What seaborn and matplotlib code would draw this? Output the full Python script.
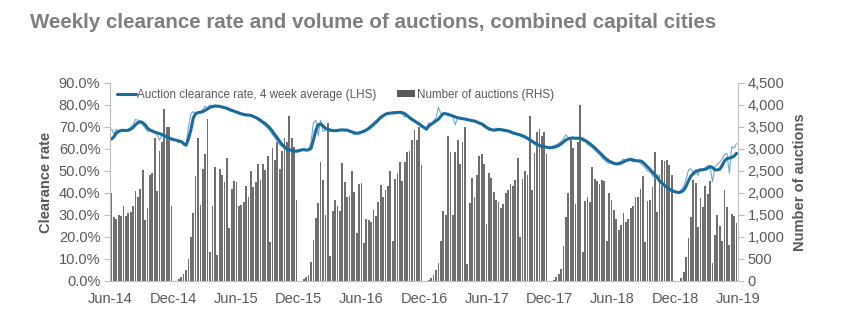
import numpy as np
import pandas as pd
import matplotlib
matplotlib.use("Agg")
import matplotlib.pyplot as plt
import seaborn as sns
from matplotlib.patches import Patch
from matplotlib.lines import Line2D

sns.set_theme(style="white")
plt.rcParams["font.family"] = ["Liberation Sans", "DejaVu Sans"]

# ---------------- data (weekly, Jun-14 .. Jun-19) ----------------
tick_labels = ["Jun-14", "Dec-14", "Jun-15", "Dec-15", "Jun-16", "Dec-16",
               "Jun-17", "Dec-17", "Jun-18", "Dec-18", "Jun-19"]

auctions_2014 = [2000, 1450, 1420, 1500, 1480, 1700, 1480, 1550, 1560, 1700,
                 2050, 1900, 2080, 2520, 1380, 1650, 2400, 2450, 3250, 2050,
                 2950, 3150, 3900, 3500, 3500, 1700, 0, 0]
auctions_2015 = [40, 100, 160, 250, 500, 1000, 1550, 2380, 3250, 1720,
                 2550, 2880, 3680, 650, 1700, 2600, 600, 2550, 2400, 2250,
                 2800, 1200, 2080, 2280, 2250, 1700, 1730, 1800, 2150, 1900,
                 2500, 2130, 2250, 2650, 2300, 2650, 2530, 2830, 880, 3030,
                 2750, 3150, 2550, 2950, 3250, 3150, 3750, 3250, 3050, 1830, 0, 0]
auctions_2016 = [40, 80, 140, 440, 930, 1425, 1765, 2715, 2300, 1500,
                 3580, 570, 1600, 1840, 1700, 1580, 2680, 2260, 1920, 1940,
                 2490, 2020, 1100, 2200, 2220, 860, 1410, 1390, 1340, 1610,
                 1470, 1790, 2180, 1920, 2070, 2170, 2490, 900, 2320, 2450,
                 2700, 2280, 2700, 2940, 2960, 3200, 3440, 3200, 3490, 2640, 0, 0]
auctions_2017 = [25, 60, 135, 250, 400, 900, 1590, 1490, 3300, 2930,
                 1500, 2930, 3200, 2650, 3170, 3510, 380, 1770, 2350, 1920,
                 2410, 2830, 2880, 2650, 1290, 2450, 2340, 2020, 1840, 1790,
                 1650, 1750, 2000, 2070, 2200, 2150, 2300, 2790, 1000, 2320,
                 2490, 2410, 3740, 2060, 2920, 3395, 3450, 3300, 3395, 2895, 0, 0]
auctions_2018 = [30, 80, 160, 265, 800, 1460, 2000, 3200, 3030, 1760,
                 3150, 3990, 670, 1820, 1910, 1800, 2580, 2310, 2280, 2200,
                 2300, 2280, 915, 2000, 1840, 1610, 1420, 1160, 1270, 1550,
                 1350, 1400, 1660, 1700, 1910, 1910, 2090, 2380, 890, 1820,
                 1840, 2140, 2930, 1560, 2410, 2750, 2730, 2750, 2640, 2420, 0, 0, 0]
auctions_2019 = [60, 200, 550, 970, 1460, 2300, 2220, 1220, 1890, 1680,
                 2170, 1980, 2270, 410, 1040, 1500, 1240, 920, 2060, 1680,
                 810, 1520, 1480, 1310]

clearance_4wk = [
    64.5, 65.5, 67.2, 68, 68.4, 68.5, 68.4, 68.5, 69, 69.8,
    71, 72, 72.4, 72, 71, 69.5, 68.6, 68.2, 67.7, 67.3,
    67, 66.6, 66, 65.4, 65, 64.6, 64.2, 64, 63.6, 63.4,
    62.5, 61.7, 64.5, 68.5, 74, 76, 76.5, 76.7, 77, 77.6,
    78.3, 79, 79.3, 79.5, 79.5, 79.4, 79.1, 78.8, 78.5, 78,
    77.6, 77.2, 76.8, 76.4, 76, 75.7, 75.5, 75.4, 75.3, 74.8,
    74.3, 73.8, 73, 72.2, 71.5, 70.5, 69.4, 68, 66.4, 65,
    63.4, 62, 61, 60, 59.6, 59.4, 59, 59, 59.2, 59.6,
    59.7, 59.5, 59.6, 60.3, 64, 68.5, 71, 71.4, 70.5, 69.4,
    69, 68.6, 68.4, 68.3, 68.4, 68.6, 68.7, 68.6, 68.6, 68.2,
    67.8, 67.4, 67.1, 67.3, 67.7, 68, 68.6, 69.3, 70.2, 71.1,
    72.1, 73.2, 74.3, 75.1, 75.8, 76.2, 76.3, 76.4, 76.5, 76.6,
    76.7, 76.5, 76, 75.2, 74.3, 73.5, 72.8, 72.1, 71.4, 70.5,
    69.8, 69, 70.5, 71.3, 72, 72.8, 73.5, 74.9, 76.1, 76,
    75.8, 75.4, 75, 74.6, 74.2, 74, 73.8, 73.6, 73.4, 73.1,
    72.9, 72.7, 72.3, 71.8, 71.4, 70.7, 69.8, 69.2, 68.8, 68.6,
    68.7, 68.9, 68.8, 68.6, 68.4, 68.2, 67.8, 67.3, 67, 66.7,
    66.4, 66, 65.5, 64.9, 64.2, 63.5, 62.8, 62.2, 61.6, 61.2,
    61, 60.8, 60.6, 60.6, 60.8, 61.1, 61.6, 62.3, 63.2, 64.1,
    64.6, 64.9, 65, 64.9, 64.9, 64.9, 64.5, 63.9, 63.2, 62.4,
    61.5, 60.6, 59.5, 58.4, 57.4, 56.2, 55.3, 54.5, 54, 53.5,
    53.2, 53.3, 53.6, 54.2, 54.7, 55.1, 55.3, 55, 54.7, 54.6,
    54.6, 54, 53, 51.8, 50.7, 49.5, 48.2, 47, 45.5, 44.5,
    43.5, 42.6, 41.8, 41.2, 40.7, 40.4, 40.2, 40.5, 41.3, 43,
    45.5, 47.7, 48.8, 49.7, 50.2, 50.5, 50.6, 50.8, 51.3, 52,
    51.6, 50.5, 50.5, 50.8, 52.5, 54.6, 55.6, 55.9, 56.2, 56.8,
    58]

clearance_weekly = [
    69, 67, 69, 68, 68.5, 68, 68.5, 69, 70, 71,
    73.5, 73, 72, 71, 69.5, 68, 68.5, 67.5, 67.5, 66.5,
    64, 66.5, 65, 65.5, 64.5, 64, 64, 63.8, 63, 63,
    61.8, 61.5, 70, 76, 77, 76, 77, 76.5, 78, 79.5,
    78.5, 80, 79, 80, 79, 79.5, 78.5, 79, 78, 77.5,
    77, 77.5, 76.5, 76, 75.5, 76, 75, 75.5, 75, 74.5,
    74, 73, 72.5, 71.5, 70.5, 69.5, 68, 66.5, 65, 63.5,
    62, 61, 60, 59.5, 59.5, 59, 59, 59.5, 59.5, 59.8,
    59.5, 59.5, 60, 63, 72, 73, 66, 73, 68, 68.5,
    69.5, 68, 68.5, 68, 69, 68.5, 69, 68, 68.5, 67.5,
    67.5, 66.5, 67.5, 67, 68, 68.5, 69, 70, 71, 72,
    73, 74, 75, 75.5, 76, 76.5, 76, 77, 76.5, 77,
    76.5, 76, 74.5, 75, 73.5, 73, 72.5, 71.5, 71, 70,
    69.5, 69, 72, 70.5, 73, 74, 79, 76, 75.5, 76.5,
    75, 75.5, 74.5, 71, 74.5, 74, 73.5, 73.5, 73, 73,
    72.5, 72.5, 72, 71.5, 71, 70, 69.5, 68.5, 69, 68,
    69.5, 69, 68.5, 69, 68, 68, 67.5, 67, 66.5, 67,
    66, 65.5, 65, 64.5, 63.5, 63, 62, 61.5, 61, 61,
    61, 60.5, 60.5, 61, 61.5, 62, 62.5, 63.5, 64.5, 66.5,
    65, 64.5, 65.5, 64.5, 65, 64.5, 63.5, 63.5, 62, 61.5,
    60.5, 59.5, 58.5, 57.5, 56, 55, 54, 53.5, 53.5, 53,
    53.5, 54, 54.5, 55.5, 54.5, 55.5, 55, 54, 55, 54.5,
    53.5, 52.5, 51.5, 50, 49.5, 48, 46.5, 48.5, 45, 43.5,
    43, 42, 41.5, 41, 40.5, 40.5, 40.5, 41.5, 43, 46,
    50.5, 51, 49.5, 50.5, 48, 51, 50.5, 51.5, 52.5, 52,
    45, 52, 53, 54, 55.5, 57.5, 58, 49, 61, 60.5,
    62.5]

auctions = (auctions_2014 + auctions_2015 + auctions_2016 +
            auctions_2017 + auctions_2018 + auctions_2019)
n = len(auctions)
df = pd.DataFrame({"week": np.arange(n), "auctions": auctions,
                   "avg": clearance_4wk[:n], "weekly": clearance_weekly[:n]})

# ---------------- figure ----------------
GREY_TXT = "#595959"
SPINE = "#bfbfbf"
BAR = "#6f6f6f"
DARK = "#1a6b9a"
LIGHT = "#6fa8dc"

fig = plt.figure(figsize=(8.41, 3.25), dpi=100)
ax = fig.add_axes([110 / 841, 1 - 281 / 325, 628 / 841, 198 / 325])
ax2 = ax.twinx()

sns.barplot(data=df, x="week", y="auctions", ax=ax2, native_scale=True,
            color=BAR, saturation=1, width=0.72, errorbar=None, linewidth=0)
sns.lineplot(data=df, x="week", y="weekly", ax=ax, color=LIGHT, lw=0.8)
sns.lineplot(data=df, x="week", y="avg", ax=ax, color=DARK, lw=2.2)

ax.set_zorder(ax2.get_zorder() + 1)
ax.patch.set_visible(False)

ax.set_xlim(-0.6, n - 0.4)
ax2.set_xlim(-0.6, n - 0.4)
ax.set_ylim(0, 90)
ax2.set_ylim(0, 4500)

ticks_pos = [-0.5 + k * 26.1 for k in range(len(tick_labels))]
ax.set_xticks(ticks_pos)
ax.set_xticklabels(tick_labels)
ax.set_yticks(np.arange(0, 91, 10))
ax.set_yticklabels([f"{v:.1f}%" for v in np.arange(0, 91, 10)])
ax2.set_yticks(np.arange(0, 4501, 500))
ax2.set_yticklabels([f"{v:,}" for v in range(0, 4501, 500)])

for a in (ax, ax2):
    a.set_xlabel("")
    a.spines["top"].set_visible(False)
    for s in ("left", "right", "bottom"):
        a.spines[s].set_color(SPINE)
        a.spines[s].set_linewidth(0.8)
    a.grid(False)
ax.spines["right"].set_visible(False)
ax2.spines["left"].set_visible(False)
ax2.spines["bottom"].set_visible(False)

ax.tick_params(axis="both", which="both", direction="out", length=4, width=0.8,
               color=SPINE, labelcolor=GREY_TXT, labelsize=10.5, pad=3)
ax.tick_params(axis="x", pad=4)
ax2.tick_params(axis="y", direction="out", length=4, width=0.8, color=SPINE,
                labelcolor=GREY_TXT, labelsize=10.5, pad=3)
ax2.tick_params(axis="x", bottom=False, labelbottom=False)

ax.set_ylabel("Clearance rate", fontsize=10.5, fontweight="bold",
              color=GREY_TXT, labelpad=4)
ax2.set_ylabel("Number of auctions", fontsize=10.5, fontweight="bold",
               color=GREY_TXT, labelpad=6)

handles = [Line2D([0], [0], color=DARK, lw=2.2),
           Patch(facecolor="#5a5a5a", edgecolor="none")]
labels = ["Auction clearance rate, 4 week average (LHS)", "Number of auctions (RHS)"]
ax.legend(handles, labels, loc="center left", bbox_to_anchor=(0.0, 0.94),
          ncol=2, frameon=False, fontsize=8.4, labelcolor=GREY_TXT,
          handlelength=1.6, handleheight=0.5, handletextpad=0.15,
          columnspacing=1.7, borderaxespad=0.2)

fig.text(30 / 841, 1 - 23 / 325,
         "Weekly clearance rate and volume of auctions, combined capital cities",
         fontsize=14.8, fontweight="bold", color="#7f7f7f", va="center", ha="left")

fig.savefig("out.png", dpi=100, facecolor="white")
